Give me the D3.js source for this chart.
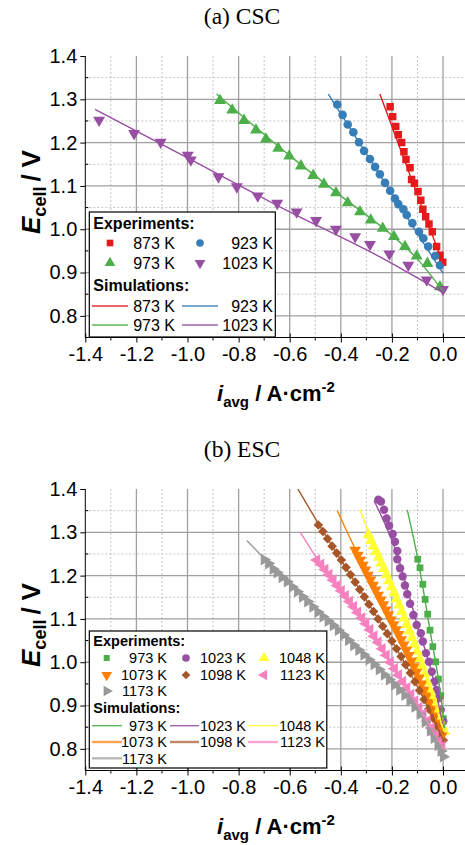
<!DOCTYPE html>
<html><head><meta charset="utf-8">
<script src="https://cdn.jsdelivr.net/npm/d3@7/dist/d3.min.js"></script>
<style>body{margin:0;background:#fff} svg{display:block}</style>
</head><body>
<svg id="c" width="465" height="845"></svg>
<script>
// ---------------- DATA ----------------
const xTicksMajor = [-1.4,-1.2,-1.0,-0.8,-0.6,-0.4,-0.2,0.0];
const yTicksMajor = [0.8,0.9,1.0,1.1,1.2,1.3,1.4];

// (a) CSC
const cscLabels = ["873 K","923 K","973 K","1023 K"];
const cscExp873 = [[-0.207,1.283],[-0.197,1.260],[-0.185,1.237],[-0.175,1.218],[-0.162,1.200],[-0.153,1.179],[-0.145,1.161],[-0.129,1.142],[-0.123,1.115],[-0.112,1.106],[-0.098,1.087],[-0.087,1.067],[-0.079,1.046],[-0.068,1.029],[-0.055,1.012],[-0.042,0.994],[-0.025,0.960],[-0.012,0.940],[-0.001,0.924]];
const cscExp923 = [[-0.414,1.288],[-0.393,1.264],[-0.373,1.242],[-0.351,1.224],[-0.329,1.201],[-0.309,1.181],[-0.286,1.162],[-0.266,1.144],[-0.247,1.127],[-0.227,1.107],[-0.207,1.089],[-0.188,1.071],[-0.175,1.058],[-0.155,1.046],[-0.142,1.033],[-0.120,1.014],[-0.094,0.994],[-0.077,0.979],[-0.058,0.960],[-0.031,0.938],[-0.012,0.917]];
const cscExp973 = [[-0.873,1.297],[-0.825,1.275],[-0.779,1.251],[-0.732,1.229],[-0.693,1.208],[-0.645,1.187],[-0.602,1.169],[-0.556,1.146],[-0.508,1.124],[-0.466,1.104],[-0.419,1.084],[-0.373,1.061],[-0.325,1.040],[-0.283,1.021],[-0.236,1.002],[-0.192,0.983],[-0.149,0.960],[-0.103,0.938],[-0.061,0.921],[-0.012,0.867]];
const cscExp1023 = [[-1.346,1.252],[-1.209,1.221],[-1.105,1.201],[-0.999,1.171],[-0.987,1.160],[-0.879,1.121],[-0.807,1.098],[-0.725,1.077],[-0.649,1.060],[-0.573,1.040],[-0.497,1.020],[-0.419,1.000],[-0.344,0.983],[-0.286,0.965],[-0.210,0.943],[-0.136,0.917],[-0.064,0.883],[0.000,0.861]];
const cscSim873 = [[-0.247,1.312],[-0.125,1.118],[0.001,0.919]];
const cscSim923 = [[-0.449,1.312],[-0.207,1.088],[0.0,0.898]];
const cscSim973 = [[-0.886,1.312],[-0.6,1.170],[-0.4,1.077],[-0.194,0.983],[-0.1,0.931],[0.001,0.856]];
const cscSim1023 = [[-1.362,1.277],[-1.0,1.165],[-0.6,1.040],[-0.247,0.936],[0.001,0.853]];

// (b) ESC
const escLabels = ["973 K","1023 K","1048 K","1073 K","1098 K","1123 K","1173 K"];
const escExp973 = [[-0.099,1.238],[-0.090,1.218],[-0.079,1.180],[-0.070,1.145],[-0.060,1.111],[-0.051,1.074],[-0.040,1.036],[-0.029,1.001],[-0.018,0.961],[-0.009,0.923],[0.001,0.870]];
const escExp1023 = [[-0.253,1.375],[-0.243,1.371],[-0.231,1.352],[-0.221,1.332],[-0.211,1.315],[-0.197,1.296],[-0.188,1.278],[-0.179,1.257],[-0.179,1.238],[-0.168,1.217],[-0.158,1.198],[-0.149,1.177],[-0.140,1.157],[-0.129,1.135],[-0.116,1.109],[-0.103,1.086],[-0.087,1.067],[-0.079,1.048],[-0.067,1.021],[-0.055,1.001],[-0.044,0.978],[-0.034,0.955],[-0.025,0.936],[-0.018,0.917],[-0.009,0.890],[0.001,0.863]];
const escExp1048 = [[-0.292,1.294],[-0.282,1.281],[-0.272,1.268],[-0.262,1.255],[-0.252,1.242],[-0.242,1.229],[-0.232,1.216],[-0.222,1.202],[-0.212,1.188],[-0.202,1.174],[-0.192,1.160],[-0.182,1.146],[-0.172,1.132],[-0.162,1.117],[-0.152,1.102],[-0.142,1.087],[-0.132,1.072],[-0.122,1.057],[-0.112,1.041],[-0.102,1.025],[-0.092,1.008],[-0.082,0.991],[-0.072,0.973],[-0.062,0.954],[-0.052,0.935],[-0.042,0.919],[-0.032,0.903],[-0.022,0.885],[-0.012,0.867],[-0.002,0.851],[0.006,0.840]];
const escExp1073 = [[-0.344,1.259],[-0.334,1.247],[-0.324,1.236],[-0.314,1.224],[-0.304,1.213],[-0.294,1.201],[-0.284,1.190],[-0.274,1.178],[-0.264,1.167],[-0.254,1.155],[-0.244,1.144],[-0.234,1.133],[-0.224,1.121],[-0.214,1.110],[-0.204,1.098],[-0.194,1.087],[-0.184,1.075],[-0.174,1.064],[-0.164,1.052],[-0.154,1.040],[-0.144,1.028],[-0.134,1.016],[-0.124,1.003],[-0.114,0.990],[-0.104,0.977],[-0.094,0.964],[-0.084,0.950],[-0.074,0.936],[-0.064,0.922],[-0.054,0.907],[-0.044,0.892],[-0.034,0.876],[-0.024,0.860],[-0.014,0.845],[-0.005,0.830]];
const escExp1098 = [[-0.488,1.317],[-0.470,1.302],[-0.452,1.285],[-0.434,1.268],[-0.416,1.252],[-0.398,1.236],[-0.380,1.219],[-0.362,1.202],[-0.344,1.185],[-0.326,1.168],[-0.308,1.151],[-0.290,1.134],[-0.272,1.117],[-0.254,1.100],[-0.236,1.083],[-0.218,1.066],[-0.200,1.049],[-0.182,1.031],[-0.164,1.013],[-0.146,0.994],[-0.128,0.975],[-0.110,0.955],[-0.092,0.935],[-0.074,0.914],[-0.056,0.892],[-0.040,0.872],[-0.026,0.854],[-0.012,0.836],[0.001,0.820]];
const escExp1123 = [[-0.494,1.236],[-0.478,1.226],[-0.462,1.214],[-0.446,1.202],[-0.430,1.190],[-0.414,1.177],[-0.398,1.165],[-0.382,1.153],[-0.366,1.140],[-0.350,1.128],[-0.334,1.115],[-0.318,1.102],[-0.302,1.089],[-0.286,1.075],[-0.270,1.060],[-0.254,1.046],[-0.238,1.031],[-0.222,1.016],[-0.206,1.000],[-0.190,0.985],[-0.174,0.970],[-0.158,0.955],[-0.142,0.940],[-0.126,0.925],[-0.110,0.910],[-0.094,0.895],[-0.078,0.880],[-0.062,0.864],[-0.046,0.848],[-0.030,0.832],[-0.016,0.818],[-0.004,0.806]];
const escExp1173 = [[-0.700,1.237],[-0.683,1.228],[-0.665,1.215],[-0.650,1.207],[-0.630,1.196],[-0.610,1.186],[-0.590,1.174],[-0.570,1.163],[-0.550,1.151],[-0.530,1.140],[-0.510,1.128],[-0.490,1.116],[-0.470,1.105],[-0.450,1.095],[-0.430,1.085],[-0.410,1.074],[-0.390,1.063],[-0.370,1.051],[-0.350,1.039],[-0.330,1.028],[-0.310,1.017],[-0.290,1.006],[-0.270,0.995],[-0.250,0.983],[-0.230,0.971],[-0.210,0.960],[-0.190,0.948],[-0.170,0.936],[-0.150,0.924],[-0.130,0.911],[-0.110,0.897],[-0.090,0.880],[-0.070,0.862],[-0.050,0.842],[-0.035,0.825],[-0.020,0.808],[-0.008,0.795],[0.001,0.782]];
const escSim973 = [[-0.140,1.352],[-0.099,1.240],[-0.051,1.074],[-0.009,0.923],[0.006,0.848]];
const escSim1023 = [[-0.270,1.373],[-0.181,1.251],[-0.100,1.085],[-0.044,0.975],[0.005,0.838]];
const escSim1048 = [[-0.325,1.352],[-0.292,1.300],[-0.182,1.146],[-0.082,0.991],[-0.032,0.903],[0.006,0.838]];
const escSim1073 = [[-0.414,1.350],[-0.344,1.262],[-0.234,1.133],[-0.124,1.003],[-0.054,0.907],[0.005,0.822]];
const escSim1098 = [[-0.570,1.402],[-0.488,1.320],[-0.290,1.134],[-0.146,0.994],[-0.056,0.892],[0.004,0.815]];
const escSim1123 = [[-0.560,1.301],[-0.494,1.240],[-0.366,1.140],[-0.206,1.000],[-0.094,0.895],[-0.030,0.832],[0.005,0.798]];
const escSim1173 = [[-0.768,1.281],[-0.700,1.240],[-0.530,1.140],[-0.330,1.028],[-0.150,0.924],[-0.070,0.862],[-0.020,0.808],[0.004,0.785]];

// ---------------- DRAWING ----------------
const svg = d3.select("#c");
const SANS = "'Liberation Sans', Arial, Helvetica, sans-serif";
const SERIF = "'Liberation Serif', 'Times New Roman', serif";

function symPath(shape, size){
  const map = {square:d3.symbolSquare, circle:d3.symbolCircle, up:d3.symbolTriangle,
    down:d3.symbolTriangle, left:d3.symbolTriangle, right:d3.symbolTriangle, diamond:d3.symbolSquare};
  return d3.symbol(map[shape], size)();
}
const rot = {square:0, circle:0, up:0, down:180, left:-90, right:90, diamond:45};

function drawPanel(cfg){
  const g = svg.append("g");
  const x = d3.scaleLinear().domain([-1.4, 0.086]).range([85.3, 465]);
  const y = d3.scaleLinear().domain([0.75, 1.4]).range([cfg.bottom, cfg.top]);
  const [x0,x1] = x.range();
  const yb = cfg.bottom, yt = cfg.top;

  // title
  g.append("text").attr("x", 242).attr("y", cfg.titleY).attr("text-anchor","middle")
    .attr("font-family", SERIF).attr("font-size", 23.5).text(cfg.title);

  // grid minor
  const minorX = d3.range(-13,1,2).map(d=>d/10);
  const minorY = d3.range(17,28,2).map(d=>d/20);
  g.append("g").selectAll("line").data(minorX).join("line")
    .attr("x1",d=>x(d)).attr("x2",d=>x(d)).attr("y1",yt).attr("y2",yb)
    .attr("stroke","#c4c4c4").attr("stroke-dasharray","2,2");
  g.append("g").selectAll("line").data(minorY).join("line")
    .attr("x1",x0).attr("x2",x1).attr("y1",d=>y(d)).attr("y2",d=>y(d))
    .attr("stroke","#c4c4c4").attr("stroke-dasharray","2,2");
  // grid major
  g.append("g").selectAll("line").data(xTicksMajor.slice(1)).join("line")
    .attr("x1",d=>x(d)).attr("x2",d=>x(d)).attr("y1",yt).attr("y2",yb)
    .attr("stroke","#a0a0a0").attr("stroke-width",1.3);
  g.append("g").selectAll("line").data(yTicksMajor.slice(0,-1)).join("line")
    .attr("x1",x0).attr("x2",x1).attr("y1",d=>y(d)).attr("y2",d=>y(d))
    .attr("stroke","#a0a0a0").attr("stroke-width",1.3);

  // axes
  const xAxis = d3.axisBottom(x).tickValues(xTicksMajor).tickFormat(d3.format(".1f")).tickSize(5).tickPadding(4);
  const gx = g.append("g").attr("transform",`translate(0,${yb})`).call(xAxis);
  gx.select(".domain").remove();
  gx.selectAll(".tick line").attr("y1",-4).attr("stroke","#000");
  gx.selectAll(".tick text").attr("font-family",SANS).attr("font-size",20).attr("fill","#000")
    .text(d=>d3.format(".1f")(d).replace("−","-"));
  g.append("g").selectAll("line").data(minorX).join("line")
    .attr("x1",d=>x(d)).attr("x2",d=>x(d)).attr("y1",yb).attr("y2",yb+3).attr("stroke","#000");
  g.append("line").attr("x1",x0).attr("x2",x1).attr("y1",yb).attr("y2",yb).attr("stroke","#000");

  const yAxis = d3.axisLeft(y).tickValues(yTicksMajor).tickFormat(d3.format(".1f")).tickSize(5).tickPadding(3);
  const gy = g.append("g").attr("transform",`translate(${x0},0)`).call(yAxis);
  gy.select(".domain").remove();
  gy.selectAll(".tick line").attr("stroke","#000");
  gy.selectAll(".tick text").attr("font-family",SANS).attr("font-size",20).attr("fill","#000");
  g.append("g").selectAll("line").data(minorY).join("line")
    .attr("x1",x0).attr("x2",x0+3).attr("y1",d=>y(d)).attr("y2",d=>y(d)).attr("stroke","#000");
  g.append("line").attr("x1",x0).attr("x2",x0).attr("y1",yt).attr("y2",yb).attr("stroke","#000");

  // axis labels
  const yl = g.append("text").attr("transform",`translate(40,${cfg.ylabelC}) rotate(-90)`)
    .attr("text-anchor","middle").attr("font-family",SANS).attr("font-weight","bold").attr("font-size",26);
  yl.append("tspan").attr("font-style","italic").text("E");
  yl.append("tspan").attr("font-size",18).attr("dy",6).text("cell");
  yl.append("tspan").attr("dy",-6).attr("dx",5).text("/");
  yl.append("tspan").attr("dx",7).text("V");
  const xl = g.append("text").attr("x",276).attr("y",cfg.xlabelY)
    .attr("text-anchor","middle").attr("font-family",SANS).attr("font-weight","bold").attr("font-size",22);
  xl.append("tspan").attr("font-style","italic").text("i");
  xl.append("tspan").attr("font-size",15).attr("dy",6).text("avg");
  xl.append("tspan").attr("dy",-6).text(" / A·cm");
  xl.append("tspan").attr("font-size",15).attr("dy",-9).text("-2");

  // clip
  const cid = "clip"+cfg.id;
  svg.append("clipPath").attr("id",cid).append("rect").attr("x",x0).attr("y",yt).attr("width",x1-x0).attr("height",yb-yt);
  const plot = g.append("g").attr("clip-path",`url(#${cid})`);
  const line = d3.line().x(d=>x(d[0])).y(d=>y(d[1])).curve(d3.curveMonotoneX);

  cfg.series.forEach(s=>{
    plot.append("g").selectAll("path").data(s.exp).join("path")
      .attr("d", symPath(s.shape, s.size))
      .attr("transform", d=>`translate(${x(d[0])},${y(d[1])}) rotate(${rot[s.shape]})`)
      .attr("fill", s.color);
  });
  cfg.series.forEach(s=>{
    plot.append("path").datum(s.sim).attr("d",line).attr("fill","none")
      .attr("stroke",s.color).attr("stroke-width",1.4);
  });

  // legend
  const L = cfg.legend;
  const lg = g.append("g").attr("font-family",SANS).attr("font-size",L.fs);
  lg.append("rect").attr("x",L.x).attr("y",L.y).attr("width",L.w).attr("height",L.h)
    .attr("fill","#fff").attr("stroke","#000").attr("stroke-width",1.2);
  lg.append("text").attr("x",L.x+4).attr("y",L.expY).attr("font-weight","bold").text("Experiments:");
  lg.append("text").attr("x",L.x+4).attr("y",L.simY).attr("font-weight","bold").text("Simulations:");
  cfg.series.forEach((s,i)=>{
    const col = i % L.cols, row = Math.floor(i / L.cols);
    const cy = L.rowsExp[row], cy2 = L.rowsSim[row];
    lg.append("path").attr("d", symPath(s.shape, s.lsize))
      .attr("transform",`translate(${L.mx[col]},${cy}) rotate(${rot[s.shape]})`).attr("fill",s.color);
    lg.append("text").attr("x",L.tx[col]).attr("y",cy+L.fs*0.36).attr("text-anchor","end").text(s.label);
    const thick = L.thick && row>0;
    lg.append("line").attr("x1",L.lx[col][0]).attr("x2",L.lx[col][1]).attr("y1",cy2).attr("y2",cy2)
      .attr("stroke",s.color).attr("stroke-width",thick?2.4:1.4).attr("stroke-opacity",thick?0.7:0.9);
    lg.append("text").attr("x",L.tx[col]).attr("y",cy2+L.fs*0.36).attr("text-anchor","end").text(s.label);
  });
}

const C = {red:"#e41a1c",blue:"#377eb8",green:"#4daf4a",purple:"#984ea3",yellow:"#ffff33",orange:"#ff7f00",brown:"#a65628",pink:"#f781bf",gray:"#999999"};

drawPanel({
  id:"a", title:"(a) CSC", titleY:24, top:56, bottom:337.5, ylabelC:192, xlabelY:401,
  series:[
    {label:cscLabels[0], exp:cscExp873, sim:cscSim873, color:C.red, shape:"square", size:56, lsize:44},
    {label:cscLabels[1], exp:cscExp923, sim:cscSim923, color:C.blue, shape:"circle", size:58, lsize:46},
    {label:cscLabels[2], exp:cscExp973, sim:cscSim973, color:C.green, shape:"up", size:62, lsize:50},
    {label:cscLabels[3], exp:cscExp1023, sim:cscSim1023, color:C.purple, shape:"down", size:62, lsize:50}
  ],
  legend:{x:89.3,y:212,w:186,h:125,fs:16,cols:2,expY:229,simY:291,
    rowsExp:[243,263], rowsSim:[306,325], mx:[110,200], tx:[175,273], lx:[[92,128],[182,218]]}
});

drawPanel({
  id:"b", title:"(b) ESC", titleY:457, top:489, bottom:770.5, ylabelC:625, xlabelY:834,
  series:[
    {label:escLabels[0], exp:escExp973, sim:escSim973, color:C.green, shape:"square", size:46, lsize:36},
    {label:escLabels[1], exp:escExp1023, sim:escSim1023, color:C.purple, shape:"circle", size:56, lsize:46},
    {label:escLabels[2], exp:escExp1048, sim:escSim1048, color:C.yellow, shape:"up", size:60, lsize:50},
    {label:escLabels[3], exp:escExp1073, sim:escSim1073, color:C.orange, shape:"down", size:60, lsize:50},
    {label:escLabels[4], exp:escExp1098, sim:escSim1098, color:C.brown, shape:"diamond", size:46, lsize:38},
    {label:escLabels[5], exp:escExp1123, sim:escSim1123, color:C.pink, shape:"left", size:60, lsize:50},
    {label:escLabels[6], exp:escExp1173, sim:escSim1173, color:C.gray, shape:"right", size:60, lsize:50}
  ],
  legend:{x:89.3,y:631,w:237.5,h:137,fs:14.5,cols:3,expY:646,simY:713,thick:true,
    rowsExp:[658,675,691], rowsSim:[725.7,742,758.3], mx:[106.7,186,264], tx:[167,246,325],
    lx:[[92,122],[170,199],[248,278]]}
});
</script></body></html>
